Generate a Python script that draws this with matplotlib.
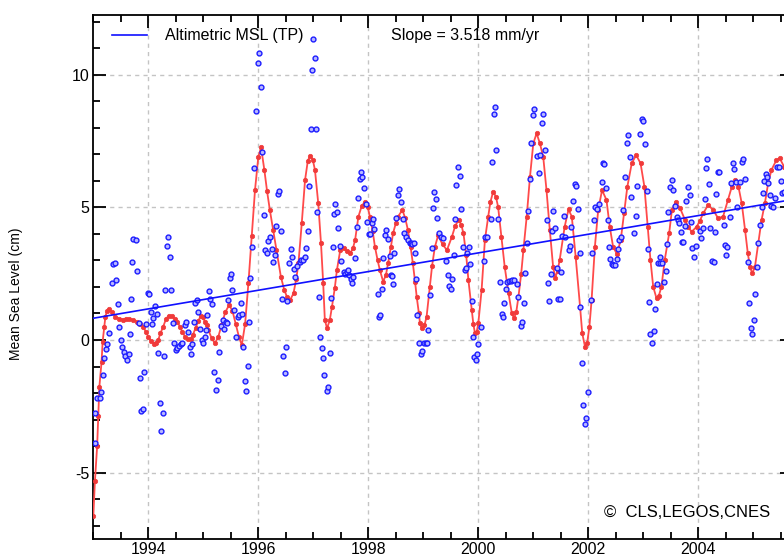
import numpy as np
import matplotlib
matplotlib.use('Agg')
import matplotlib.pyplot as plt
from matplotlib.ticker import MultipleLocator

plt.rcParams['font.family'] = ['Liberation Sans', 'DejaVu Sans']
plt.rcParams['axes.unicode_minus'] = False

# altimetric mean sea level, one value per ~10 day cycle (cm)
cycle_years = [
    1993.03, 1993.03, 1993.06, 1993.12, 1993.14, 1993.17, 1993.19, 1993.23, 1993.25, 1993.28,
    1993.34, 1993.36, 1993.39, 1993.41, 1993.44, 1993.47, 1993.50, 1993.52, 1993.55, 1993.58,
    1993.61, 1993.64, 1993.66, 1993.69, 1993.71, 1993.73, 1993.77, 1993.80, 1993.83, 1993.85,
    1993.87, 1993.90, 1993.93, 1993.96, 1993.99, 1994.02, 1994.05, 1994.07, 1994.09, 1994.12,
    1994.15, 1994.18, 1994.21, 1994.23, 1994.26, 1994.29, 1994.31, 1994.34, 1994.36, 1994.39,
    1994.42, 1994.45, 1994.47, 1994.50, 1994.53, 1994.56, 1994.59, 1994.61, 1994.66, 1994.69,
    1994.72, 1994.75, 1994.77, 1994.80, 1994.83, 1994.85, 1994.89, 1994.91, 1994.94, 1994.97,
    1995.00, 1995.03, 1995.05, 1995.07, 1995.11, 1995.12, 1995.15, 1995.20, 1995.23, 1995.26,
    1995.29, 1995.32, 1995.35, 1995.37, 1995.41, 1995.43, 1995.45, 1995.48, 1995.50, 1995.53,
    1995.55, 1995.59, 1995.63, 1995.65, 1995.68, 1995.70, 1995.72, 1995.75, 1995.78, 1995.81,
    1995.83, 1995.85, 1995.89, 1995.92, 1995.96, 1995.99, 1996.02, 1996.05, 1996.07, 1996.10,
    1996.13, 1996.16, 1996.18, 1996.21, 1996.24, 1996.27, 1996.30, 1996.32, 1996.35, 1996.38,
    1996.41, 1996.43, 1996.45, 1996.48, 1996.50, 1996.53, 1996.56, 1996.59, 1996.62, 1996.64,
    1996.67, 1996.70, 1996.75, 1996.78, 1996.81, 1996.84, 1996.87, 1996.90, 1996.92, 1996.95,
    1996.98, 1996.99, 1997.03, 1997.04, 1997.07, 1997.10, 1997.13, 1997.16, 1997.18, 1997.20,
    1997.24, 1997.27, 1997.30, 1997.32, 1997.35, 1997.38, 1997.40, 1997.43, 1997.45, 1997.49,
    1997.51, 1997.55, 1997.58, 1997.61, 1997.63, 1997.65, 1997.69, 1997.70, 1997.73, 1997.76,
    1997.79, 1997.82, 1997.84, 1997.87, 1997.89, 1997.92, 1997.95, 1997.98, 1998.01, 1998.03,
    1998.06, 1998.08, 1998.11, 1998.17, 1998.19, 1998.22, 1998.24, 1998.27, 1998.30, 1998.33,
    1998.36, 1998.39, 1998.41, 1998.43, 1998.45, 1998.47, 1998.51, 1998.54, 1998.56, 1998.59,
    1998.63, 1998.65, 1998.69, 1998.72, 1998.75, 1998.77, 1998.80, 1998.83, 1998.84, 1998.87,
    1998.89, 1998.92, 1998.95, 1998.98, 1999.01, 1999.04, 1999.06, 1999.09, 1999.12, 1999.15,
    1999.17, 1999.19, 1999.23, 1999.25, 1999.28, 1999.33, 1999.36, 1999.41, 1999.44, 1999.47,
    1999.50, 1999.53, 1999.55, 1999.58, 1999.60, 1999.63, 1999.66, 1999.69, 1999.72, 1999.75,
    1999.77, 1999.80, 1999.83, 1999.85, 1999.88, 1999.90, 1999.93, 1999.95, 1999.98, 2000.00,
    2000.04, 2000.10, 2000.12, 2000.15, 2000.23, 2000.25, 2000.28, 2000.31, 2000.33, 2000.35,
    2000.39, 2000.43, 2000.45, 2000.47, 2000.50, 2000.53, 2000.56, 2000.59, 2000.62, 2000.65,
    2000.70, 2000.73, 2000.77, 2000.80, 2000.83, 2000.85, 2000.88, 2000.91, 2000.94, 2000.96,
    2000.99, 2001.01, 2001.07, 2001.10, 2001.13, 2001.15, 2001.18, 2001.21, 2001.24, 2001.26,
    2001.29, 2001.32, 2001.34, 2001.36, 2001.39, 2001.43, 2001.45, 2001.49, 2001.51, 2001.53,
    2001.56, 2001.58, 2001.64, 2001.67, 2001.69, 2001.72, 2001.75, 2001.78, 2001.81, 2001.84,
    2001.85, 2001.89, 2001.91, 2001.94, 2001.96, 2001.99, 2002.04, 2002.07, 2002.10, 2002.13,
    2002.16, 2002.19, 2002.24, 2002.26, 2002.29, 2002.32, 2002.35, 2002.38, 2002.40, 2002.43,
    2002.45, 2002.49, 2002.52, 2002.54, 2002.56, 2002.59, 2002.63, 2002.67, 2002.70, 2002.73,
    2002.76, 2002.78, 2002.83, 2002.87, 2002.89, 2002.94, 2002.97, 2003.00, 2003.03, 2003.06,
    2003.08, 2003.10, 2003.13, 2003.16, 2003.19, 2003.22, 2003.25, 2003.27, 2003.30, 2003.31,
    2003.34, 2003.38, 2003.41, 2003.43, 2003.45, 2003.48, 2003.52, 2003.54, 2003.58, 2003.61,
    2003.63, 2003.65, 2003.68, 2003.70, 2003.73, 2003.76, 2003.78, 2003.81, 2003.84, 2003.87,
    2003.89, 2003.92, 2003.95, 2004.03, 2004.05, 2004.09, 2004.12, 2004.14, 2004.16, 2004.19,
    2004.22, 2004.24, 2004.28, 2004.30, 2004.33, 2004.35, 2004.38, 2004.46, 2004.49, 2004.51,
    2004.52, 2004.57, 2004.59, 2004.63, 2004.65, 2004.68, 2004.71, 2004.76, 2004.79, 2004.82,
    2004.85, 2004.90, 2004.93, 2004.95, 2004.98, 2005.01, 2005.03, 2005.07, 2005.09, 2005.12,
    2005.15, 2005.17, 2005.20, 2005.23, 2005.25, 2005.27, 2005.31, 2005.33, 2005.36, 2005.39,
    2005.43, 2005.47, 2005.50, 2005.53, 2005.55,
]
cycle_msl = [
    -2.76, -3.87, -2.20, -2.20, -1.97, -1.32, -0.67, -0.35, -0.16, 0.25,
    2.16, 2.88, 2.90, 2.26, 1.35, 0.50, -0.01, -0.26, -0.44, -0.61,
    -0.74, -0.54, 0.23, 1.53, 2.93, 3.82, 3.76, 2.61, 0.65, -1.42,
    -2.69, -2.59, -1.19, 0.60, 1.76, 1.73, 1.04, 0.59, 0.84, 1.28,
    0.98, -0.48, -2.37, -3.42, -2.75, -0.60, 1.87, 3.54, 3.89, 3.14,
    1.87, 0.65, -0.11, -0.38, -0.31, -0.21, -0.15, -0.10, 0.57, 0.67,
    0.31, -0.26, -0.54, -0.14, 0.69, 1.38, 1.52, 1.04, 0.41, -0.01,
    -0.10, 0.10, 0.38, 0.93, 1.84, 1.56, 1.36, -1.19, -1.88, -1.51,
    -0.44, 0.53, 0.75, 0.40, 0.69, 0.65, 1.51, 2.33, 2.49, 1.88,
    1.13, 0.12, 0.88, 0.94, 1.38, 0.98, -0.25, -1.55, -1.91, -0.98,
    0.69, 2.33, 3.52, 6.47, 8.64, 10.43, 10.83, 9.54, 7.10, 4.71,
    3.39, 3.29, 3.73, 3.89, 3.44, 2.95, 3.19, 4.30, 5.50, 5.62,
    4.11, 1.56, -0.60, -1.23, -0.25, 1.48, 2.89, 3.43, 3.14, 2.66,
    2.39, 2.79, 2.95, 3.02, 3.02, 3.12, 3.46, 4.11, 5.80, 7.95,
    10.16, 11.34, 10.62, 7.95, 4.82, 1.63, 0.12, -0.31, -0.69, -1.32,
    -1.92, -1.78, -0.48, 1.57, 3.52, 4.74, 5.11, 4.82, 4.23, 3.54,
    2.97, 2.57, 2.49, 2.55, 2.64, 2.45, 2.31, 2.14, 2.39, 3.10,
    4.27, 5.34, 6.08, 6.33, 6.15, 5.73, 5.11, 4.44, 4.01, 4.00,
    4.40, 4.56, 4.17, 1.72, 0.86, 0.94, 1.92, 3.10, 3.96, 4.15,
    3.81, 3.15, 2.45, 2.41, 2.12, 3.27, 4.59, 5.48, 5.68, 5.21,
    4.56, 4.02, 3.87, 3.78, 3.64, 3.67, 3.62, 3.64, 3.27, 2.29,
    0.94, -0.12, -0.53, -0.40, -0.12, -0.12, -0.12, 0.38, 1.70, 3.47,
    4.96, 5.58, 5.30, 4.61, 4.02, 3.89, 3.83, 2.98, 2.44, 2.04,
    1.92, 2.30, 3.22, 4.56, 5.85, 6.53, 6.18, 4.94, 3.49, 2.65,
    2.72, 3.29, 3.49, 2.85, 1.48, 0.11, -0.65, -0.75, -0.53, -0.16,
    0.48, 2.97, 3.87, 3.89, 4.55, 6.71, 8.53, 8.79, 7.16, 4.55,
    2.19, 0.98, 0.86, 1.38, 1.91, 2.20, 2.24, 2.22, 2.25, 2.26,
    2.10, 1.61, 0.53, 0.67, 1.41, 2.54, 3.64, 4.85, 6.06, 7.41,
    8.48, 8.71, 6.95, 6.28, 6.96, 8.17, 8.52, 7.16, 4.52, 2.16,
    1.47, 2.49, 4.10, 4.87, 4.23, 2.72, 1.55, 1.53, 2.57, 3.92,
    4.67, 3.89, 3.39, 3.56, 4.27, 5.25, 5.88, 5.82, 4.94, 3.29,
    1.23, -0.87, -2.44, -3.17, -2.95, -1.95, 1.51, 3.27, 4.52, 5.02,
    4.93, 5.11, 5.95, 6.66, 6.62, 5.74, 4.52, 3.52, 3.06, 2.86,
    2.82, 2.83, 3.04, 3.43, 3.77, 3.89, 4.90, 6.15, 7.41, 7.74,
    6.89, 5.38, 4.02, 4.68, 5.80, 7.75, 8.32, 8.27, 7.38, 5.62,
    3.43, 1.44, 0.23, -0.10, 0.34, 1.18, 2.11, 2.89, 2.89, 3.14,
    2.89, 2.20, 2.61, 3.62, 4.82, 5.76, 6.03, 5.65, 5.05, 4.62,
    4.52, 4.40, 4.08, 3.70, 3.70, 4.30, 5.24, 5.78, 5.47, 4.46,
    3.46, 3.14, 3.54, 4.11, 3.83, 4.21, 5.30, 6.49, 6.81, 5.88,
    4.23, 2.97, 2.95, 4.08, 5.50, 6.34, 6.34, 4.32, 3.57, 3.19,
    3.52, 4.65, 5.93, 6.66, 6.43, 5.97, 5.00, 5.97, 6.70, 6.81,
    6.07, 2.95, 1.41, 0.44, 0.24, 0.75, 1.73, 2.76, 3.64, 4.33,
    5.00, 5.55, 6.00, 6.25, 6.15, 5.91, 5.47, 5.05, 5.00, 5.36,
    6.53, 6.51, 6.00, 5.55, 5.59,
]

# smoothed curve (cm)
smooth_years = [
    1993.00, 1993.03, 1993.07, 1993.09, 1993.11, 1993.15, 1993.17, 1993.20, 1993.22, 1993.25,
    1993.28, 1993.34, 1993.40, 1993.47, 1993.54, 1993.60, 1993.65, 1993.72, 1993.79, 1993.85,
    1993.91, 1993.96, 1994.00, 1994.05, 1994.10, 1994.14, 1994.18, 1994.22, 1994.27, 1994.32,
    1994.37, 1994.43, 1994.49, 1994.53, 1994.58, 1994.62, 1994.67, 1994.72, 1994.77, 1994.81,
    1994.86, 1994.91, 1994.95, 1994.99, 1995.03, 1995.06, 1995.09, 1995.15, 1995.21, 1995.27,
    1995.33, 1995.40, 1995.47, 1995.53, 1995.59, 1995.65, 1995.70, 1995.76, 1995.82, 1995.88,
    1995.94, 1996.00, 1996.05, 1996.11, 1996.16, 1996.21, 1996.27, 1996.33, 1996.41, 1996.47,
    1996.52, 1996.58, 1996.64, 1996.69, 1996.73, 1996.79, 1996.85, 1996.90, 1996.94, 1996.99,
    1997.03, 1997.09, 1997.14, 1997.18, 1997.21, 1997.25, 1997.30, 1997.34, 1997.39, 1997.43,
    1997.49, 1997.55, 1997.61, 1997.67, 1997.72, 1997.76, 1997.82, 1997.88, 1997.94, 1997.99,
    1998.03, 1998.08, 1998.12, 1998.17, 1998.21, 1998.27, 1998.32, 1998.36, 1998.41, 1998.45,
    1998.50, 1998.54, 1998.62, 1998.67, 1998.72, 1998.77, 1998.81, 1998.85, 1998.88, 1998.92,
    1998.94, 1998.97, 1999.02, 1999.06, 1999.12, 1999.16, 1999.21, 1999.27, 1999.35, 1999.43,
    1999.52, 1999.58, 1999.64, 1999.69, 1999.73, 1999.78, 1999.82, 1999.88, 1999.91, 1999.94,
    1999.97, 2000.00, 2000.06, 2000.12, 2000.18, 2000.22, 2000.27, 2000.32, 2000.36, 2000.42,
    2000.48, 2000.55, 2000.61, 2000.65, 2000.69, 2000.73, 2000.78, 2000.82, 2000.88, 2000.94,
    2001.00, 2001.06, 2001.12, 2001.18, 2001.24, 2001.30, 2001.36, 2001.40, 2001.44, 2001.48,
    2001.57, 2001.64, 2001.70, 2001.77, 2001.85, 2001.89, 2001.94, 2001.98, 2002.02, 2002.06,
    2002.12, 2002.18, 2002.25, 2002.33, 2002.39, 2002.45, 2002.52, 2002.59, 2002.65, 2002.71,
    2002.79, 2002.87, 2002.95, 2003.02, 2003.08, 2003.13, 2003.18, 2003.24, 2003.28, 2003.33,
    2003.39, 2003.47, 2003.52, 2003.59, 2003.67, 2003.76, 2003.82, 2003.88, 2003.97, 2004.03,
    2004.09, 2004.18, 2004.27, 2004.36, 2004.45, 2004.54, 2004.61, 2004.67, 2004.73, 2004.79,
    2004.85, 2004.90, 2004.94, 2004.98, 2005.03, 2005.09, 2005.15, 2005.21, 2005.27, 2005.33,
    2005.42, 2005.48, 2005.56,
]
smooth_msl = [
    -6.65, -5.30, -4.00, -2.85, -1.77, -0.83, -0.06, 0.50, 0.88, 1.10,
    1.18, 1.05, 0.88, 0.80, 0.77, 0.80, 0.80, 0.76, 0.69, 0.62,
    0.48, 0.30, 0.12, -0.05, -0.14, -0.10, 0.00, 0.25, 0.50, 0.78,
    0.92, 0.90, 0.80, 0.68, 0.48, 0.30, 0.12, 0.02, 0.05, 0.19,
    0.45, 0.72, 0.90, 0.85, 0.69, 0.55, 0.38, 0.08, -0.12, 0.10,
    0.55, 1.05, 1.32, 1.10, 0.60, 0.10, -0.19, 0.60, 2.14, 3.92,
    5.65, 6.90, 7.26, 6.41, 5.60, 4.90, 4.15, 3.39, 2.39, 1.90,
    1.63, 1.51, 1.76, 2.30, 2.89, 4.40, 6.03, 6.75, 6.94, 6.80,
    6.41, 5.15, 3.64, 2.14, 0.75, 0.44, 0.75, 1.26, 1.95, 2.64,
    3.39, 3.45, 3.35, 3.27, 3.45, 3.77, 4.65, 5.05, 5.21, 5.00,
    4.65, 4.10, 3.52, 3.00, 2.64, 2.20, 2.45, 2.89, 3.50, 4.02,
    4.40, 4.65, 4.90, 4.60, 4.15, 3.50, 2.89, 2.20, 1.63, 1.00,
    0.63, 0.44, 0.55, 0.88, 2.01, 2.80, 3.50, 3.95, 3.60, 3.39,
    3.89, 4.30, 4.52, 4.35, 4.02, 3.20, 2.26, 1.13, 0.60, 0.25,
    0.30, 0.63, 1.88, 3.77, 4.65, 5.20, 5.59, 5.40, 5.02, 3.89,
    2.76, 1.76, 1.00, 0.82, 1.05, 1.63, 2.50, 3.39, 4.65, 6.16,
    7.41, 7.79, 7.41, 6.91, 5.65, 4.15, 2.76, 2.35, 2.60, 3.02,
    4.27, 4.92, 4.65, 3.14, 1.26, 0.25, -0.25, -0.10, 0.50, 1.51,
    3.52, 4.90, 5.65, 5.28, 4.27, 3.52, 3.24, 3.77, 4.78, 5.78,
    6.66, 6.97, 6.66, 5.78, 4.27, 3.02, 2.01, 1.57, 1.65, 2.01,
    3.02, 4.02, 4.90, 5.21, 4.96, 4.52, 4.25, 4.08, 4.27, 4.50,
    4.78, 5.09, 4.90, 4.59, 4.65, 5.28, 5.78, 6.03, 5.78, 5.15,
    4.15, 3.27, 2.76, 2.51, 2.76, 3.64, 4.52, 5.15, 5.91, 6.41,
    6.78, 6.85, 6.53,
]

# linear trend
slope_mm_per_yr = 3.518
trend_start_cm = 0.82
year_start = 1993.0
year_end = 2005.7

fig = plt.figure(figsize=(7.84, 5.58), dpi=100)
# the right side of the original plot is cut off by the image edge
ax = fig.add_axes([93.3 / 784, 19.3 / 558, (year_end - year_start) * 55 / 784, 523.7 / 558])

trend_x = np.array([year_start, year_end])
trend_y = trend_start_cm + slope_mm_per_yr / 10.0 * (trend_x - year_start)

ax.plot(smooth_years, smooth_msl, color='#ff4a4a', lw=1.3, zorder=3)
ax.plot(smooth_years, smooth_msl, ls='none', marker='o', ms=3.2,
        mfc='#f03a3a', mec='#f03a3a', mew=0.5, zorder=4)
ax.plot(cycle_years, cycle_msl, ls='none', marker='o', ms=3.5,
        mfc='#b8b8ff', mec='#1c1cff', mew=1.0, zorder=5)
trend_line, = ax.plot(trend_x, trend_y, color='#1010ff', lw=1.2, zorder=6,
                      label='Altimetric MSL (TP)')

ax.set_xlim(year_start, year_end)
ax.set_ylim(-7.49, 12.25)

ax.xaxis.set_major_locator(MultipleLocator(2))
ax.xaxis.set_minor_locator(MultipleLocator(0.5))
ax.yaxis.set_major_locator(MultipleLocator(5))
ax.yaxis.set_minor_locator(MultipleLocator(1))

ax.grid(which='major', color='#c4c4c4', linestyle=(0, (3, 3)), linewidth=1.0)
ax.set_axisbelow(True)

ax.tick_params(which='both', direction='in', top=True, right=True,
               width=1.3, labelsize=11.5, colors='black')
ax.tick_params(which='major', length=9)
ax.tick_params(which='minor', length=5)
ax.tick_params(axis='x', which='major', pad=2.5)
ax.tick_params(axis='y', which='major', pad=3)
for sp in ax.spines.values():
    sp.set_linewidth(1.3)

ax.set_ylabel('Mean Sea Level (cm)', fontsize=10)
ax.yaxis.set_label_coords(-0.1, 0.467)

ax.legend(handles=[trend_line], loc='center left', frameon=False,
          bbox_to_anchor=(111.7 / 784, 1 - 35.7 / 558), bbox_transform=fig.transFigure,
          borderpad=0, borderaxespad=0, handlelength=2.2, handletextpad=1.15,
          fontsize=11.5)

fig.text(390.7 / 784, 1 - 35.7 / 558, 'Slope = 3.518 mm/yr', fontsize=11.5, va='center')
fig.text(604 / 784, 1 - 512.5 / 558, '\u00a9  CLS,LEGOS,CNES', fontsize=12, va='center')

fig.savefig('out.png', dpi=100)
